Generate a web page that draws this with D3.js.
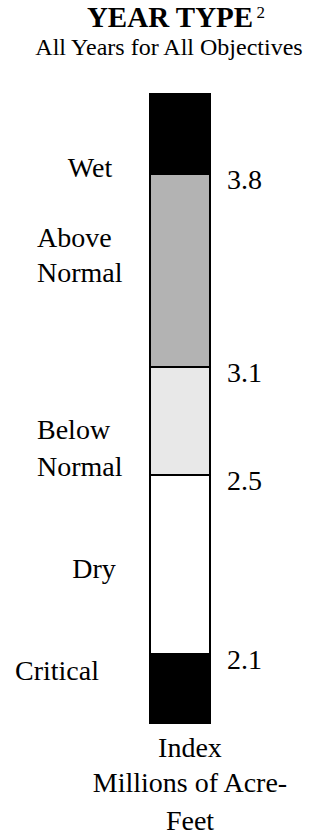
<!DOCTYPE html>
<html>
<head>
<meta charset="utf-8">
<script src="https://cdn.jsdelivr.net/npm/d3@7"></script>
<style>
  html, body { margin: 0; padding: 0; background: #fff; }
  svg { display: block; }
</style>
</head>
<body>
<svg id="chart" width="314" height="836"></svg>
<script>
// ---- data ----
const title = "YEAR TYPE";
const titleNote = "2";
const subtitle = "All Years for All Objectives";
const categories = ["Wet", "Above Normal", "Below Normal", "Dry", "Critical"];
const thresholds = [3.8, 3.1, 2.5, 2.1];           // index boundaries between year types
const thresholdLabels = ["3.8", "3.1", "2.5", "2.1"];
const axisTitle = ["Index", "Millions of Acre-", "Feet"];

// ---- layout / style ----
const FONT = "'Liberation Serif', Tinos, 'Times New Roman', Times, 'DejaVu Serif', serif";
const svg = d3.select("#chart").style("font-family", FONT);
const fills = ["#000000", "#b3b3b3", "#e8e8e8", "#ffffff", "#000000"];
const barX0 = 150, barX1 = 210;
const stops = [94, 174, 367, 475, 654, 723];
const y = d3.scaleLinear().domain(d3.range(stops.length)).range(stops);

function txt(sel) { return sel.attr("font-family", FONT).attr("fill", "#000"); }

// title
const t = txt(svg.append("text")).attr("x", 176).attr("y", 27)
  .attr("text-anchor", "middle").attr("font-size", 29).attr("font-weight", "bold");
t.append("tspan").text(title);
t.append("tspan").text("\u2009" + titleNote).attr("dy", -9).attr("font-size", 17).attr("font-weight", "normal");

txt(svg.append("text")).attr("x", 169).attr("y", 55).attr("text-anchor", "middle")
  .attr("font-size", 24).text(subtitle);

// bands
svg.append("g").selectAll("rect").data(categories).join("rect")
  .attr("x", barX0).attr("width", barX1 - barX0)
  .attr("y", (d, i) => y(i)).attr("height", (d, i) => y(i + 1) - y(i))
  .attr("fill", (d, i) => fills[i])
  .attr("stroke", "#000").attr("stroke-width", 2);

svg.append("rect").attr("x", barX0).attr("y", y(0)).attr("width", barX1 - barX0)
  .attr("height", y(categories.length) - y(0)).attr("fill", "none")
  .attr("stroke", "#000").attr("stroke-width", 2).attr("rx", 2);

// threshold labels
txt(svg.append("g").selectAll("text").data(thresholdLabels).join("text"))
  .attr("x", 227).attr("y", (d, i) => y(i + 1) + 15)
  .attr("font-size", 28).text(d => d);

// category labels
const catLayout = [
  {anchor: "middle", x: 90, lines: [177]},
  {anchor: "start", x: 37, lines: [247, 282]},
  {anchor: "start", x: 37, lines: [439, 476]},
  {anchor: "middle", x: 94, lines: [578]},
  {anchor: "start", x: 15, lines: [680]}
];
categories.forEach((c, i) => {
  const L = catLayout[i];
  const words = L.lines.length > 1 ? c.split(" ") : [c];
  words.forEach((w, j) => {
    txt(svg.append("text")).attr("x", L.x).attr("y", L.lines[j])
      .attr("text-anchor", L.anchor).attr("font-size", 28).text(w);
  });
});

// axis title
const axY = [757, 792, 830];
axisTitle.forEach((s, i) => {
  txt(svg.append("text")).attr("x", 190).attr("y", axY[i]).attr("text-anchor", "middle")
    .attr("font-size", 28).text(s);
});
</script>
</body>
</html>
